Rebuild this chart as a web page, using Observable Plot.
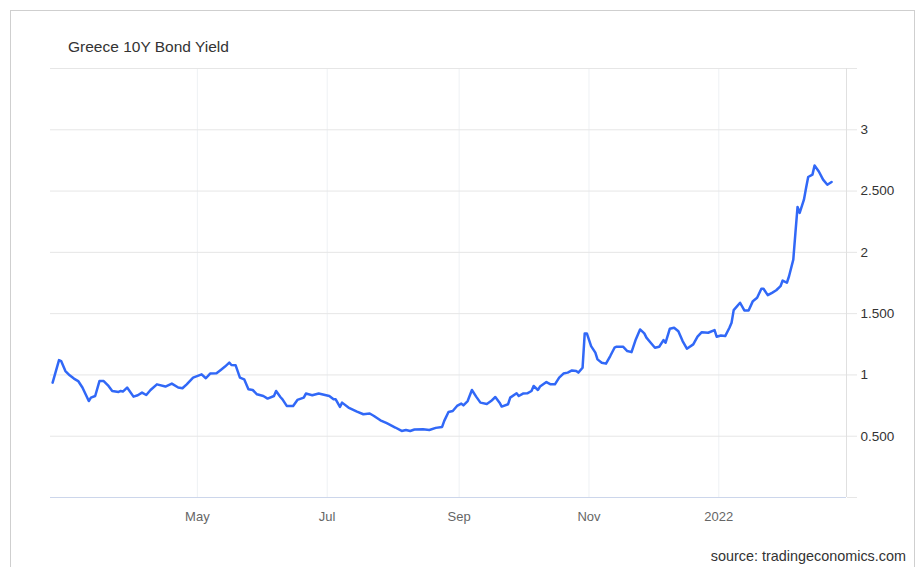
<!DOCTYPE html>
<html><head><meta charset="utf-8">
<script src="https://cdn.jsdelivr.net/npm/d3@7"></script>
<script src="https://cdn.jsdelivr.net/npm/@observablehq/plot@0.6"></script>
<style>
html,body{margin:0;padding:0;background:#fff;}
body{font-family:"Liberation Sans",Arial,sans-serif;}
#wrap{position:relative;width:924px;height:567px;overflow:hidden;}
#frame{position:absolute;left:10px;top:10px;width:905px;height:620px;border:1px solid #cfcfcf;box-sizing:border-box;}
#title{position:absolute;left:68px;top:39px;font-size:15.5px;line-height:15px;color:#333;white-space:nowrap;}
#source{position:absolute;right:18px;top:549px;font-size:14.4px;line-height:14px;color:#333;white-space:nowrap;}
#chart{position:absolute;left:0;top:0;}
</style></head>
<body>
<div id="wrap">
  <div id="frame"></div>
  <div id="chart"></div>
  <div id="title">Greece 10Y Bond Yield</div>
  <div id="source">source: tradingeconomics.com</div>
</div>
<script>
const dates = ["2021-02-22","2021-02-25","2021-02-26","2021-02-28","2021-03-02","2021-03-04","2021-03-06","2021-03-08","2021-03-11","2021-03-12","2021-03-14","2021-03-16","2021-03-18","2021-03-20","2021-03-22","2021-03-25","2021-03-26","2021-03-27","2021-03-29","2021-04-01","2021-04-03","2021-04-05","2021-04-07","2021-04-09","2021-04-12","2021-04-16","2021-04-19","2021-04-22","2021-04-24","2021-04-26","2021-04-29","2021-05-03","2021-05-05","2021-05-07","2021-05-10","2021-05-12","2021-05-14","2021-05-16","2021-05-17","2021-05-19","2021-05-21","2021-05-23","2021-05-25","2021-05-27","2021-05-29","2021-06-01","2021-06-03","2021-06-06","2021-06-07","2021-06-09","2021-06-10","2021-06-12","2021-06-15","2021-06-17","2021-06-20","2021-06-21","2021-06-24","2021-06-27","2021-06-29","2021-07-02","2021-07-04","2021-07-05","2021-07-07","2021-07-08","2021-07-11","2021-07-15","2021-07-18","2021-07-21","2021-07-23","2021-07-26","2021-07-29","2021-08-02","2021-08-05","2021-08-07","2021-08-09","2021-08-11","2021-08-15","2021-08-18","2021-08-21","2021-08-24","2021-08-25","2021-08-27","2021-08-29","2021-08-31","2021-09-02","2021-09-03","2021-09-05","2021-09-07","2021-09-09","2021-09-11","2021-09-14","2021-09-16","2021-09-18","2021-09-20","2021-09-21","2021-09-24","2021-09-25","2021-09-28","2021-09-29","2021-10-01","2021-10-03","2021-10-05","2021-10-06","2021-10-08","2021-10-09","2021-10-12","2021-10-14","2021-10-16","2021-10-18","2021-10-20","2021-10-22","2021-10-24","2021-10-26","2021-10-27","2021-10-29","2021-10-30","2021-10-31","2021-11-02","2021-11-04","2021-11-05","2021-11-07","2021-11-09","2021-11-11","2021-11-13","2021-11-14","2021-11-17","2021-11-19","2021-11-21","2021-11-23","2021-11-25","2021-11-27","2021-11-28","2021-11-30","2021-12-02","2021-12-04","2021-12-06","2021-12-07","2021-12-09","2021-12-11","2021-12-13","2021-12-15","2021-12-17","2021-12-20","2021-12-22","2021-12-24","2021-12-27","2021-12-30","2021-12-31","2022-01-02","2022-01-04","2022-01-06","2022-01-07","2022-01-08","2022-01-11","2022-01-13","2022-01-15","2022-01-17","2022-01-19","2022-01-21","2022-01-22","2022-01-24","2022-01-26","2022-01-28","2022-01-30","2022-01-31","2022-02-02","2022-02-03","2022-02-05","2022-02-06","2022-02-07","2022-02-08","2022-02-10","2022-02-11","2022-02-12","2022-02-14","2022-02-15","2022-02-17","2022-02-19","2022-02-21","2022-02-23"];
const yields = [0.937,1.121,1.113,1.032,0.997,0.970,0.950,0.897,0.787,0.815,0.828,0.950,0.950,0.915,0.869,0.861,0.869,0.864,0.897,0.823,0.834,0.856,0.836,0.877,0.923,0.905,0.929,0.897,0.891,0.923,0.978,1.005,0.973,1.011,1.013,1.040,1.068,1.100,1.081,1.078,0.978,0.964,0.883,0.877,0.842,0.828,0.807,0.828,0.869,0.820,0.801,0.747,0.747,0.796,0.815,0.848,0.834,0.848,0.840,0.828,0.801,0.801,0.739,0.774,0.734,0.701,0.679,0.685,0.665,0.630,0.606,0.571,0.543,0.551,0.543,0.555,0.557,0.551,0.568,0.576,0.625,0.698,0.706,0.747,0.766,0.752,0.787,0.877,0.823,0.774,0.763,0.787,0.820,0.774,0.742,0.761,0.815,0.850,0.828,0.848,0.850,0.869,0.910,0.877,0.905,0.942,0.923,0.923,0.978,1.011,1.019,1.037,1.032,1.019,1.059,1.339,1.339,1.235,1.182,1.127,1.100,1.092,1.154,1.222,1.230,1.230,1.195,1.186,1.290,1.371,1.339,1.304,1.263,1.222,1.230,1.284,1.263,1.377,1.385,1.357,1.276,1.214,1.249,1.312,1.349,1.344,1.366,1.312,1.322,1.317,1.385,1.426,1.529,1.589,1.526,1.526,1.602,1.629,1.703,1.703,1.651,1.670,1.691,1.724,1.770,1.752,1.805,1.941,2.159,2.371,2.322,2.430,2.525,2.615,2.634,2.709,2.660,2.593,2.552,2.574];

const xTickDates = ["2021-05-01","2021-07-01","2021-09-01","2021-11-01","2022-01-01"];
const xTickLabels = ["May","Jul","Sep","Nov","2022"];
const yTicks = [0, 0.5, 1, 1.5, 2, 2.5, 3, 3.5];
const yTickLabels = ["", "0.500", "1", "1.500", "2", "2.500", "3", ""];
const xDomain = ["2021-02-21", "2022-03-02"];

const series = dates.map((d, i) => ({date: new Date(d), value: yields[i]}));
const xTicks = xTickDates.map(d => new Date(d));
const xDom = xDomain.map(d => new Date(d));

const chart = Plot.plot({
  width: 924, height: 567,
  marginLeft: 50, marginRight: 78, marginTop: 68, marginBottom: 70,
  style: {fontFamily: '"Liberation Sans", Arial, sans-serif', background: "transparent", overflow: "visible"},
  x: {type: "utc", domain: xDom},
  y: {domain: [0, 3.5]},
  marks: [
    Plot.ruleX(xTicks, {x: d => d, stroke: "#eef1f4", strokeWidth: 1}),
    Plot.ruleY(yTicks.slice(1), {y: d => d, stroke: "#e6e6e6", strokeWidth: 1}),
    Plot.ruleX([xDom[1]], {x: d => d, stroke: "#e0e0e0", strokeWidth: 1}),
    Plot.axisY({anchor: "right", ticks: yTicks, tickFormat: (d, i) => yTickLabels[i], tickSize: 10, tickPadding: 4,
      stroke: "#e6e6e6", fill: "#333", fontSize: 13.5, label: null}),
    Plot.ruleY([0], {y: d => d, stroke: "#ccd6eb", strokeWidth: 1}),
    Plot.axisX({ticks: xTicks, tickFormat: (d, i) => xTickLabels[i], tickSize: 0, tickPadding: 14,
      fill: "#666", fontSize: 13, label: null}),
    Plot.line(series, {x: "date", y: "value", stroke: "#3168f7", strokeWidth: 2.5, strokeLinejoin: "round", strokeLinecap: "round"})
  ]
});
document.getElementById("chart").appendChild(chart);
</script>
</body></html>
